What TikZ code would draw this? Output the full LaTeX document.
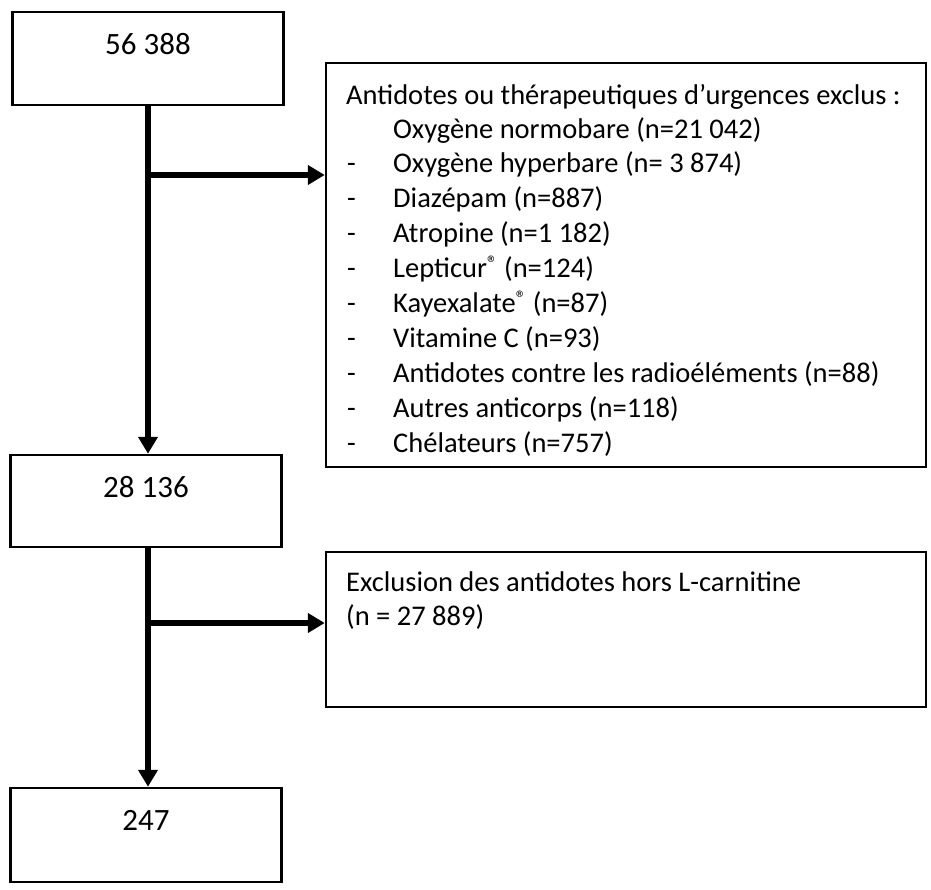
\documentclass[tikz,border=0pt]{standalone}
\usepackage{fontspec}
\setmainfont{Carlito}
\usetikzlibrary{arrows.meta}
\newcommand{\regmark}{{\fontsize{21}{21}\selectfont\raisebox{7pt}{®}}}
\tikzset{
  box/.style={draw=black, line width=2.5pt, rectangle, inner sep=0pt},
  num/.style={font=\fontsize{31}{36}\selectfont, inner sep=0pt},
  txt/.style={font=\fontsize{28.5}{34}\selectfont, inner sep=0pt, anchor=base west},
  flow/.style={line width=5.5pt, -{Triangle[length=17pt,width=19pt]}},
}
\begin{document}
\begin{tikzpicture}[x=1pt,y=-1pt]
\useasboundingbox (0,0) rectangle (931,889);
% left boxes
\node[box, minimum width=271pt, minimum height=93pt] (b1) at (148,58.5) {};
\node[box, minimum width=271pt, minimum height=92pt] (b2) at (146,501) {};
\node[box, minimum width=271pt, minimum height=94pt] (b3) at (146,835) {};
\node[num] (t1) at (148,44) {56 388};
\node[num] (t2) at (146,487) {28 136};
\node[num] (t3) at (146,820) {247};
% right boxes
\node[box, minimum width=600pt, minimum height=404pt] (ra) at (626,265) {};
\node[box, minimum width=600pt, minimum height=155pt] (rb) at (626,629.5) {};
% text in right box A
\node[txt] (h) at (346,104) {Antidotes ou thérapeutiques d’urgences exclus :};
\node[txt] (i1) at (393,138) {Oxygène normobare (n=21 042)};
\foreach \y/\t [count=\k] in {172/{Oxygène hyperbare (n= 3 874)}, 207/{Diazépam (n=887)}, 242/{Atropine (n=1 182)}, 277/{Lepticur\regmark\ (n=124)}, 312/{Kayexalate\regmark\ (n=87)}, 347/{Vitamine C (n=93)}, 382/{Antidotes contre les radioéléments (n=88)}, 417/{Autres anticorps (n=118)}, 452/{Chélateurs (n=757)}}{
  \node[txt] (d\k) at (347,\y) {-};
  \node[txt] (j\k) at (393,\y) {\t};
}
% text in right box B
\node[txt] (e1) at (346,591) {Exclusion des antidotes hors L-carnitine};
\node[txt] (e2) at (346,625) {(n = 27 889)};
% connectors
\coordinate (c1) at (148,175);
\coordinate (c2) at (148,623);
\draw[flow] (b1.south) -- (b1.south |- b2.north);
\draw[flow] (c1) -- (c1 -| ra.west);
\draw[flow] (b2.south -| c2) -- (c2 |- b3.north);
\draw[flow] (c2) -- (c2 -| rb.west);
\end{tikzpicture}
\end{document}
